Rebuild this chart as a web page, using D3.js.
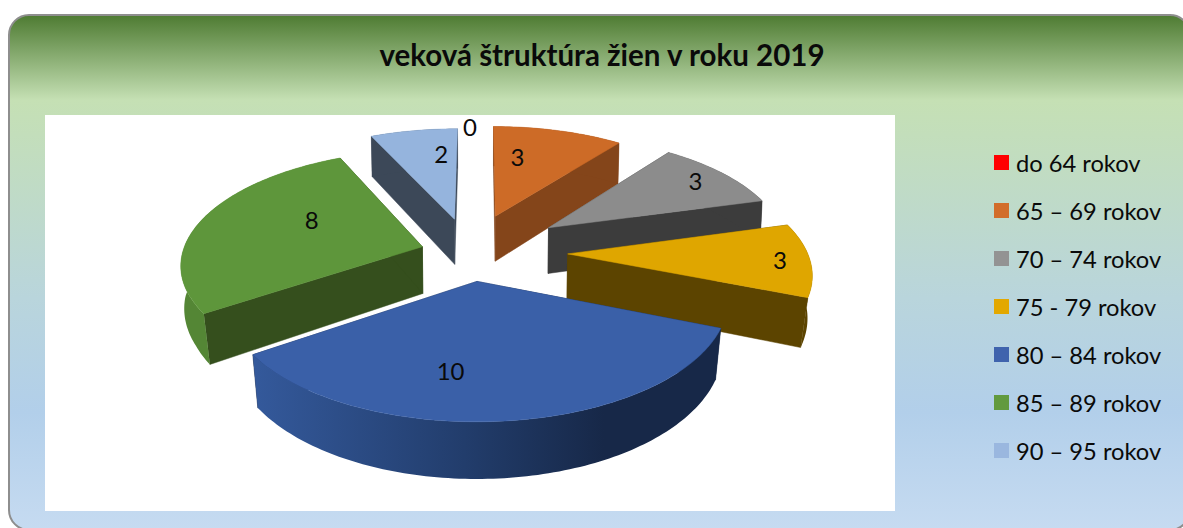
<!DOCTYPE html>
<html><head><meta charset="utf-8">
<script src="https://cdn.jsdelivr.net/npm/d3@7"></script>
<style>html,body{margin:0;padding:0;background:#fff;overflow:hidden}svg{display:block}text{font-family:Lato,"Noto Sans",sans-serif;fill:#0a0a0a}</style>
</head><body><div id="c"></div>
<script>
const title = "veková štruktúra žien v roku 2019";
const categories = ["do 64 rokov","65 – 69 rokov","70 – 74 rokov","75 - 79 rokov","80 – 84 rokov","85 – 89 rokov","90 – 95 rokov"];
const values = [0,3,3,3,10,8,2];
const topColors = ["#FF0000","#CD6B27","#8C8C8C","#DFA600","#3A60A8","#5E963B","#95B4DD"];
const edgeColors = ["#800000","#84451A","#3C3C3C","#5C4400","#172848","#354F1D","#3C4858"];
const rimColors = ["#800000","#84451A","#3C3C3C","#5C4400","url(#blueRim)","#548635","#3C4858"];
const legendColors = ["#FF0000","#D26D2A","#939393","#E3A800","#3F63AD","#629A3E","#9AB7DF"];
// how far each slice is pulled out of the pie (pie-radius units, right / toward viewer)
const explodeX = [-0.05,0.067,0.295,0.365,-0.012,-0.242,-0.111];
const explodeY = [-0.25,-0.318,-0.206,0.035,0.272,-0.03,-0.289];
const labelAngle = [0,10,55.5,94,188,297,354];
const labelRadius = [1.06,0.64,0.84,0.875,0.68,0.55,0.70];

const W=1183,H=528, cx=480, cy=250, R=239, RY=111, K=0.14, depth=47;
const bottomShrink=d3.scaleLinear().domain([0,0.4]).range([0.993,0.978]).clamp(true);
const svg=d3.select("#c").append("svg").attr("width",W).attr("height",H);
const defs=svg.append("defs");
const bg=defs.append("linearGradient").attr("id","panel").attr("x1",0).attr("x2",0).attr("y1",0).attr("y2",1);
[[0,"#4E7B32"],[0.165,"#C5E0B4"],[0.55,"#B9D5DC"],[0.77,"#B2CFEA"],[1,"#C6DBF1"]].forEach(s=>bg.append("stop").attr("offset",s[0]).attr("stop-color",s[1]));
const rg=defs.append("linearGradient").attr("id","blueRim").attr("gradientUnits","userSpaceOnUse").attr("x1",255).attr("x2",720).attr("y1",0).attr("y2",0);
[[0,"#34599B"],[0.45,"#223D6C"],[0.75,"#172848"],[1,"#172848"]].forEach(s=>rg.append("stop").attr("offset",s[0]).attr("stop-color",s[1]));

svg.append("rect").attr("x",9).attr("y",15).attr("width",1181).attr("height",515).attr("rx",20).attr("fill","url(#panel)").attr("stroke","#8E8E8E").attr("stroke-width",2);
svg.append("rect").attr("x",45).attr("y",115).attr("width",850).attr("height",396).attr("fill","#fff");
svg.append("text").attr("x",602).attr("y",66).attr("text-anchor","middle").attr("font-size",29.5).attr("font-weight",700).text(title);

const arcs=d3.pie().sort(null).value(d=>d)(values);
function project(i,angle,r,low){
  const X=explodeX[i]+r*Math.sin(angle), Y=explodeY[i]-r*Math.cos(angle), s=1/(1-K*Y);
  const x=cx+R*X*s, y=cy+RY*Y*s;
  return low?[cx+(x-cx)*bottomShrink(Y), y+depth*s]:[x,y];
}
const line=d3.line();
function steps(a0,a1){const n=Math.max(2,Math.ceil(Math.abs(a1-a0)/0.02));return d3.range(n+1).map(j=>a0+(a1-a0)*j/n);}
const order=arcs.map((a,i)=>({a,i})).filter(d=>d.a.value>0).sort((p,q)=>explodeY[p.i]-explodeY[q.i]);
const g=svg.append("g");
order.forEach(({a,i})=>{
  const A=steps(a.startAngle,a.endAngle);
  const rim=A.map(t=>project(i,t,1,false)).concat(A.slice().reverse().map(t=>project(i,t,1,true)));
  [a.startAngle,a.endAngle].forEach(t=>{
    const p=[project(i,0,0,false),project(i,t,1,false),project(i,t,1,true),project(i,0,0,true)];
    g.append("path").attr("d",line(p)+"Z").attr("fill",edgeColors[i]).attr("stroke",edgeColors[i]).attr("stroke-width",0.5);
  });
  g.append("path").attr("d",line(rim)+"Z").attr("fill",rimColors[i]);
  const top=[project(i,0,0,false)].concat(A.map(t=>project(i,t,1,false)));
  g.append("path").attr("d",line(top)+"Z").attr("fill",topColors[i]).attr("stroke",topColors[i]).attr("stroke-width",0.5);
});
values.forEach((v,i)=>{
  const p=project(i,labelAngle[i]*Math.PI/180,labelRadius[i],false);
  svg.append("text").attr("x",p[0]).attr("y",p[1]).attr("dy","0.36em").attr("text-anchor","middle").attr("font-size",24).text(v);
});
const yL=d3.scalePoint().domain(categories).range([163,451]);
categories.forEach((c,i)=>{
  svg.append("rect").attr("x",994).attr("y",yL(c)-8).attr("width",15).attr("height",15).attr("fill",legendColors[i]);
  svg.append("text").attr("x",1016).attr("y",yL(c)+8.5).attr("font-size",23.7).text(c);
});
</script></body></html>
